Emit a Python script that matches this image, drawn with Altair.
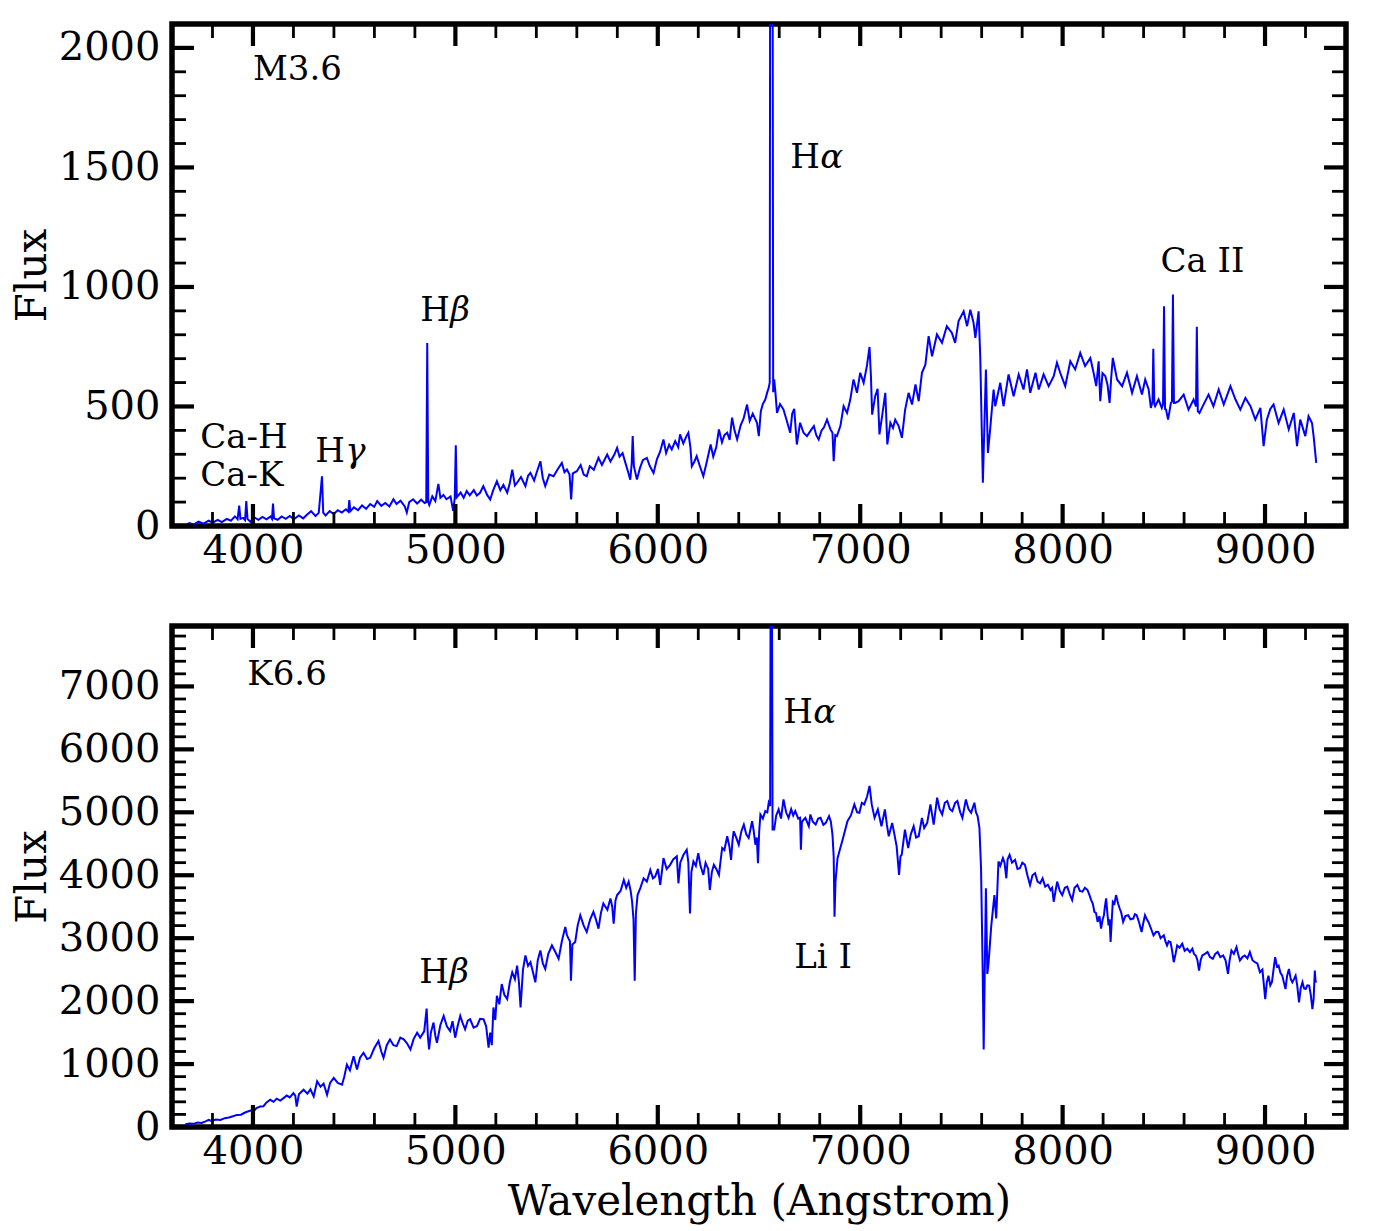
import altair as alt
import pandas as pd

# ---------------- data ----------------
TOP_WL = [
    3666, 3686, 3706, 3731, 3756, 3781, 3801, 3826, 3846, 3871,
    3891, 3911, 3924, 3932, 3938, 3951, 3961, 3967, 3973, 3987,
    4007, 4027, 4047, 4067, 4087, 4094, 4099, 4104, 4122, 4142,
    4162, 4182, 4202, 4227, 4248, 4268, 4287, 4309, 4325, 4341,
    4347, 4359, 4379, 4399, 4419, 4439, 4459, 4471, 4476, 4481,
    4499, 4519, 4539, 4559, 4579, 4599, 4614, 4634, 4654, 4674,
    4694, 4709, 4729, 4750, 4760, 4772, 4791, 4811, 4831, 4848,
    4856, 4861, 4866, 4871, 4886, 4901, 4916, 4926, 4941, 4956,
    4976, 4989, 4997, 5002, 5007, 5026, 5041, 5056, 5071, 5091,
    5106, 5122, 5138, 5157, 5172, 5187, 5205, 5222, 5237, 5256,
    5269, 5281, 5294, 5305, 5324, 5346, 5359, 5371, 5389, 5404,
    5420, 5432, 5444, 5464, 5485, 5504, 5526, 5539, 5551, 5564,
    5572, 5580, 5600, 5619, 5634, 5649, 5664, 5684, 5707, 5724,
    5750, 5766, 5786, 5799, 5811, 5826, 5840, 5852, 5864, 5871,
    5876, 5882, 5897, 5911, 5926, 5946, 5961, 5979, 5996, 6011,
    6028, 6041, 6056, 6069, 6086, 6101, 6110, 6126, 6141, 6151,
    6161, 6168, 6181, 6192, 6206, 6225, 6241, 6261, 6274, 6289,
    6302, 6317, 6329, 6343, 6355, 6367, 6379, 6392, 6409, 6424,
    6441, 6454, 6469, 6490, 6499, 6509, 6519, 6531, 6541, 6548,
    6553, 6556, 6566, 6570, 6575, 6581, 6589, 6604, 6621, 6634,
    6644, 6654, 6664, 6674, 6687, 6703, 6720, 6737, 6756, 6771,
    6783, 6795, 6809, 6820, 6836, 6853, 6863, 6869, 6877, 6885,
    6902, 6918, 6935, 6951, 6967, 6984, 7000, 7017, 7033, 7046,
    7053, 7059, 7074, 7086, 7095, 7108, 7124, 7134, 7149, 7162,
    7173, 7190, 7206, 7222, 7239, 7256, 7273, 7289, 7305, 7322,
    7338, 7355, 7379, 7404, 7428, 7453, 7469, 7486, 7511, 7528,
    7544, 7560, 7569, 7585, 7593, 7606, 7621, 7631, 7642, 7659,
    7667, 7692, 7708, 7733, 7758, 7783, 7807, 7824, 7840, 7866,
    7882, 7906, 7931, 7956, 7972, 7988, 8013, 8038, 8062, 8087,
    8111, 8137, 8153, 8166, 8178, 8186, 8197, 8211, 8222, 8232,
    8240, 8248, 8269, 8294, 8318, 8343, 8367, 8392, 8408, 8425,
    8436, 8444, 8448, 8453, 8457, 8474, 8490, 8496, 8501, 8506,
    8511, 8521, 8535, 8540, 8545, 8550, 8555, 8573, 8598, 8622,
    8647, 8659, 8663, 8668, 8676, 8696, 8721, 8745, 8771, 8796,
    8829, 8854, 8878, 8903, 8928, 8952, 8977, 8993, 9009, 9026,
    9042, 9067, 9092, 9117, 9142, 9158, 9174, 9199, 9215, 9232,
    9240, 9253,
]
TOP_FLUX = [
    5, 12, 6, 18, 10, 22, 14, 26, 16, 30,
    22, 40, 28, 85, 30, 34, 25, 104, 30, 18,
    36, 26, 38, 28, 40, 30, 94, 32, 26, 40,
    30, 42, 28, 44, 32, 48, 62, 42, 55, 208,
    56, 44, 62, 50, 66, 56, 70, 60, 108, 62,
    78, 66, 86, 72, 92, 80, 104, 84, 96, 82,
    112, 92, 106, 82, 56, 100, 112, 94, 110, 96,
    100, 766, 100, 88, 124, 104, 176, 118, 130, 112,
    124, 64, 118, 338, 120, 140, 118, 146, 128, 150,
    128, 139, 167, 130, 111, 150, 187, 150, 172, 139,
    180, 236, 170, 181, 205, 167, 210, 222, 190, 230,
    271, 200, 167, 215, 208, 235, 264, 225, 236, 215,
    111, 220, 229, 255, 215, 208, 250, 235, 285, 255,
    299, 270, 300, 327, 290, 305, 264, 230, 194, 260,
    376, 250, 194, 240, 275, 285, 250, 222, 280, 310,
    362, 305, 340, 320, 355, 330, 383, 345, 375, 390,
    330, 250, 270, 292, 255, 208, 265, 341, 290, 330,
    404, 350, 380, 390, 360, 453, 400, 362, 420, 450,
    508, 440, 470, 432, 376, 480, 510, 529, 560, 578,
    600, 3200, 3200, 560, 613, 560, 473, 510, 487, 450,
    420, 390, 470, 490, 341, 432, 390, 376, 400, 418,
    380, 362, 400, 411, 445, 404, 390, 271, 380, 376,
    418, 501, 473, 529, 613, 557, 641, 599, 669, 749,
    627, 466, 543, 574, 383, 459, 557, 341, 432, 410,
    445, 418, 369, 487, 557, 508, 592, 522, 641, 675,
    794, 710, 801, 766, 836, 808, 766, 857, 898, 836,
    905, 850, 787, 898, 710, 181, 655, 306, 404, 571,
    501, 599, 501, 634, 543, 634, 571, 655, 557, 641,
    571, 634, 585, 627, 683, 641, 585, 689, 655, 724,
    669, 703, 641, 585, 689, 522, 640, 627, 590, 515,
    620, 703, 613, 585, 641, 557, 627, 550, 613, 571,
    494, 520, 741, 510, 501, 529, 494, 510, 919, 490,
    487, 445, 515, 520, 968, 515, 515, 522, 550, 487,
    529, 500, 833, 480, 473, 508, 550, 501, 571, 508,
    585, 529, 487, 536, 501, 445, 494, 334, 445, 490,
    508, 431, 487, 404, 473, 334, 445, 376, 459, 431,
    376, 264,
]

BOT_WL = [
    3666, 3686, 3706, 3726, 3746, 3766, 3781, 3796, 3816, 3839,
    3861, 3881, 3901, 3921, 3941, 3961, 3987, 4002, 4017, 4036,
    4052, 4067, 4085, 4102, 4117, 4135, 4151, 4167, 4182, 4200,
    4209, 4216, 4227, 4250, 4269, 4284, 4300, 4317, 4334, 4349,
    4366, 4381, 4399, 4419, 4440, 4451, 4464, 4479, 4497, 4514,
    4529, 4546, 4564, 4579, 4599, 4620, 4634, 4645, 4661, 4677,
    4694, 4710, 4728, 4745, 4761, 4778, 4794, 4811, 4826, 4846,
    4858, 4864, 4870, 4879, 4892, 4901, 4909, 4926, 4942, 4958,
    4974, 4986, 4999, 5011, 5024, 5036, 5048, 5061, 5073, 5090,
    5107, 5122, 5139, 5152, 5164, 5172, 5180, 5188, 5197, 5205,
    5217, 5229, 5242, 5256, 5269, 5281, 5294, 5305, 5314, 5322,
    5334, 5346, 5359, 5371, 5384, 5395, 5407, 5420, 5432, 5444,
    5459, 5477, 5494, 5510, 5526, 5543, 5551, 5559, 5566, 5571,
    5578, 5592, 5604, 5617, 5634, 5649, 5666, 5682, 5694, 5707,
    5719, 5731, 5751, 5766, 5775, 5782, 5791, 5799, 5816, 5832,
    5844, 5856, 5866, 5873, 5880, 5886, 5892, 5900, 5914, 5930,
    5946, 5963, 5976, 5987, 6001, 6012, 6020, 6028, 6044, 6061,
    6076, 6094, 6102, 6111, 6127, 6143, 6151, 6159, 6166, 6176,
    6188, 6200, 6211, 6225, 6236, 6249, 6257, 6267, 6277, 6289,
    6302, 6311, 6318, 6329, 6343, 6354, 6362, 6369, 6375, 6387,
    6400, 6413, 6425, 6437, 6449, 6459, 6466, 6474, 6482, 6489,
    6495, 6501, 6507, 6519, 6531, 6541, 6548, 6555, 6558, 6563,
    6567, 6575, 6585, 6597, 6609, 6621, 6634, 6646, 6659, 6669,
    6679, 6694, 6703, 6707, 6712, 6729, 6746, 6754, 6766, 6780,
    6792, 6804, 6818, 6830, 6846, 6855, 6863, 6869, 6873, 6878,
    6888, 6899, 6913, 6924, 6937, 6954, 6971, 6985, 6996, 7008,
    7020, 7034, 7046, 7057, 7071, 7087, 7105, 7122, 7132, 7141,
    7158, 7169, 7180, 7192, 7199, 7205, 7221, 7237, 7250, 7264,
    7276, 7289, 7305, 7316, 7331, 7347, 7363, 7380, 7392, 7405,
    7418, 7430, 7443, 7455, 7469, 7480, 7494, 7505, 7522, 7535,
    7548, 7564, 7572, 7580, 7589, 7597, 7605, 7610, 7616, 7621,
    7628, 7634, 7647, 7663, 7672, 7683, 7692, 7705, 7713, 7722,
    7728, 7738, 7750, 7765, 7777, 7789, 7801, 7814, 7826, 7839,
    7851, 7864, 7876, 7889, 7901, 7914, 7927, 7940, 7948, 7956,
    7965, 7973, 7986, 7998, 8011, 8023, 8035, 8047, 8059, 8073,
    8085, 8098, 8110, 8123, 8131, 8141, 8149, 8157, 8165, 8173,
    8182, 8190, 8198, 8204, 8209, 8215, 8221, 8227, 8232, 8237,
    8243, 8248, 8256, 8264, 8274, 8282, 8290, 8299, 8310, 8324,
    8335, 8349, 8357, 8366, 8378, 8390, 8399, 8407, 8416, 8424,
    8437, 8449, 8462, 8473, 8484, 8500, 8508, 8516, 8524, 8533,
    8541, 8549, 8558, 8566, 8578, 8591, 8603, 8616, 8629, 8641,
    8649, 8658, 8666, 8674, 8682, 8690, 8703, 8716, 8728, 8742,
    8754, 8766, 8779, 8793, 8805, 8817, 8825, 8834, 8846, 8859,
    8867, 8876, 8888, 8900, 8913, 8925, 8938, 8950, 8962, 8975,
    8987, 9001, 9009, 9017, 9026, 9034, 9042, 9050, 9059, 9067,
    9076, 9085, 9093, 9101, 9109, 9118, 9127, 9135, 9143, 9151,
    9159, 9168, 9176, 9185, 9193, 9201, 9209, 9218, 9226, 9234,
    9240, 9246, 9250, 9253,
]
BOT_FLUX = [
    45, 55, 50, 70, 65, 90, 112, 95, 118, 112,
    140, 150, 170, 192, 195, 230, 261, 245, 300, 325,
    330, 390, 432, 400, 450, 420, 459, 500, 470, 539,
    500, 325, 520, 592, 530, 600, 485, 725, 640, 690,
    512, 700, 779, 700, 672, 800, 992, 900, 1125, 912,
    1100, 1179, 1080, 1099, 1250, 1365, 1200, 1099, 1300, 1392,
    1300, 1285, 1420, 1392, 1330, 1232, 1400, 1499, 1420, 1520,
    1883, 1450, 1232, 1500, 1659, 1450, 1339, 1620, 1765, 1600,
    1525, 1680, 1419, 1600, 1765, 1650, 1552, 1690, 1712, 1580,
    1605, 1720, 1712, 1600, 1259, 1500, 1300, 1899, 1700, 2085,
    1950, 2272, 2100, 2032, 2300, 2459, 2350, 2565, 2300, 1899,
    2500, 2725, 2560, 2619, 2450, 2299, 2650, 2805, 2600, 2512,
    2750, 2885, 2780, 2672, 2950, 3179, 3050, 2992, 2950, 2325,
    2900, 2939, 3200, 3365, 3200, 3099, 3300, 3419, 3300, 3152,
    3400, 3552, 3450, 3632, 3500, 3232, 3600, 3685, 3750, 3925,
    3800, 3899, 3750, 3579, 3300, 2325, 3400, 3685, 3800, 3952,
    3900, 4085, 3950, 3979, 4100, 3845, 4050, 4272, 4100, 4165,
    4250, 4299, 3872, 4200, 4325, 4405, 4200, 3392, 4050, 4219,
    4150, 4352, 4150, 4005, 4200, 4100, 3765, 4050, 4165, 4100,
    4005, 4250, 4432, 4400, 4619, 4450, 4245, 4550, 4699, 4600,
    4485, 4700, 4805, 4650, 4592, 4750, 4859, 4700, 4485, 4600,
    4192, 4700, 4965, 4900, 5019, 5000, 5152, 5100, 9500, 9500,
    4725, 4725, 4950, 5045, 4900, 5205, 5000, 4912, 5050, 4950,
    5019, 4900, 4912, 4405, 4850, 4912, 4779, 4965, 4850, 4805,
    4900, 4912, 4800, 4832, 4939, 4850, 4645, 4300, 3339, 3900,
    4272, 4400, 4565, 4700, 4859, 4950, 5125, 5000, 4992, 5150,
    5125, 5250, 5419, 5125, 4912, 5045, 4779, 5045, 4800, 4619,
    4832, 4650, 4459, 4005, 4300, 4325, 4725, 4432, 4650, 4779,
    4600, 4619, 4912, 4750, 4832, 5125, 4805, 5232, 5050, 4965,
    5150, 5179, 5050, 5019, 5150, 5179, 5000, 4912, 5205, 5050,
    4992, 5152, 5000, 4939, 4752, 4112, 2512, 1232, 2632, 3792,
    2432, 2600, 3179, 3685, 3312, 4219, 4150, 4272, 4200, 3952,
    4250, 4325, 4200, 4245, 4100, 4112, 4200, 4165, 4000, 3845,
    4000, 4032, 3900, 3872, 3950, 3819, 3850, 3765, 3800, 3579,
    3750, 3899, 3750, 3685, 3800, 3819, 3700, 3605, 3800, 3845,
    3750, 3739, 3800, 3765, 3700, 3605, 3550, 3419, 3400, 3259,
    3350, 3152, 3300, 3365, 3500, 3632, 3400, 3205, 3300, 2939,
    3300, 3579, 3550, 3685, 3550, 3472, 3400, 3259, 3350, 3365,
    3300, 3312, 3380, 3365, 3250, 3099, 3250, 3365, 3300, 3259,
    3150, 3045, 3100, 3099, 3000, 3045, 2950, 2885, 2950, 2939,
    2800, 2619, 2750, 2885, 2850, 2912, 2800, 2832, 2780, 2832,
    2750, 2725, 2650, 2485, 2650, 2725, 2750, 2779, 2700, 2672,
    2750, 2779, 2700, 2725, 2650, 2432, 2650, 2805, 2750, 2859,
    2750, 2645, 2700, 2725, 2680, 2779, 2650, 2619, 2600, 2459,
    2500, 2032, 2300, 2405, 2250, 2299, 2500, 2699, 2550, 2565,
    2450, 2405, 2300, 2192, 2400, 2512, 2350, 2299, 2350, 2405,
    2250, 1979, 2200, 2299, 2200, 2192, 2250, 2245, 2100, 1872,
    2032, 2485, 2299, 2320,
]

X_MAJOR = [4000, 5000, 6000, 7000, 8000, 9000]
X_MINOR = [3800, 4200, 4400, 4600, 4800, 5200, 5400, 5600, 5800,
           6200, 6400, 6600, 6800, 7200, 7400, 7600, 7800,
           8200, 8400, 8600, 8800, 9200]
TOP_Y_MAJOR = [0, 500, 1000, 1500, 2000]
TOP_Y_MINOR = [100, 200, 300, 400, 600, 700, 800, 900, 1100, 1200,
               1300, 1400, 1600, 1700, 1800, 1900]
BOT_Y_MAJOR = [0, 1000, 2000, 3000, 4000, 5000, 6000, 7000]
BOT_Y_MINOR = [200, 400, 600, 800, 1200, 1400, 1600, 1800, 2200, 2400,
               2600, 2800, 3200, 3400, 3600, 3800, 4200, 4400, 4600, 4800,
               5200, 5400, 5600, 5800, 6200, 6400, 6600, 6800, 7200, 7400,
               7600, 7800]

TOP_TEXT = ["M3.6", "H", "Ca II", "H", "Ca-H", "Ca-K", "H"]
TOP_GREEK = ["", "α", "", "β", "", "", "γ"]
TOP_TEXT_WL = [4000, 6655, 8483, 4826, 3740, 3740, 4308]
TOP_TEXT_FLUX = [1864, 1496, 1064, 856, 328, 169, 266]

BOT_TEXT = ["K6.6", "H", "H", "Li I"]
BOT_GREEK = ["", "α", "β", ""]
BOT_TEXT_WL = [3972, 6620, 4822, 6674]
BOT_TEXT_FLUX = [7019, 6415, 2281, 2530]

# ---------------- styling ----------------
X_DOMAIN = [3600, 9400]
W = 1174
FONT = "DejaVu Serif"
BLUE = "#0000ff"
MAJ_LEN, MIN_LEN = 22, 14
MAJ_W, MIN_W = 4.2, 2.8


def panel(wl, flux, ymax, h, ymaj, ymin, tx, tg, twl, tflux, xtitle):
    xs = alt.Scale(domain=X_DOMAIN, nice=False, zero=False)
    ys = alt.Scale(domain=[0, ymax], nice=False, zero=False)
    xax = alt.Axis(values=X_MAJOR, format="d", ticks=False, tickSize=0,
                   domain=False, grid=False, labelFont=FONT, labelFontSize=40,
                   labelColor="black", labelPadding=4, labelFlush=False,
                   labelOverlap=False, title=xtitle, titleFont=FONT,
                   titleFontSize=42, titleFontWeight="normal",
                   titleColor="black", titlePadding=10)
    yax = alt.Axis(values=ymaj, format="d", ticks=False, tickSize=0,
                   domain=False, grid=False, labelFont=FONT, labelFontSize=40,
                   labelColor="black", labelPadding=12, labelFlush=False,
                   labelOverlap=False, title="Flux", titleFont=FONT,
                   titleFontSize=42, titleFontWeight="normal",
                   titleColor="black", titlePadding=4)

    def X():
        return alt.X("wl:Q", scale=xs, axis=xax)

    def Y():
        return alt.Y("flux:Q", scale=ys, axis=yax)

    spec = pd.DataFrame({"wl": wl, "flux": flux})
    layers = [alt.Chart(spec).mark_line(color=BLUE, strokeWidth=2.0, clip=True)
              .encode(x=X(), y=Y())]

    for vals, ln, sw in [(X_MAJOR, MAJ_LEN, MAJ_W), (X_MINOR, MIN_LEN, MIN_W)]:
        d = pd.DataFrame({"wl": vals})
        layers.append(alt.Chart(d).mark_rule(color="black", strokeWidth=sw)
                      .encode(x=X(), y=alt.value(h), y2=alt.value(h - ln)))
        layers.append(alt.Chart(d).mark_rule(color="black", strokeWidth=sw)
                      .encode(x=X(), y=alt.value(0), y2=alt.value(ln)))
    for vals, ln, sw in [(ymaj, MAJ_LEN, MAJ_W), (ymin, MIN_LEN, MIN_W)]:
        d = pd.DataFrame({"flux": vals})
        layers.append(alt.Chart(d).mark_rule(color="black", strokeWidth=sw)
                      .encode(y=Y(), x=alt.value(0), x2=alt.value(ln)))
        layers.append(alt.Chart(d).mark_rule(color="black", strokeWidth=sw)
                      .encode(y=Y(), x=alt.value(W), x2=alt.value(W - ln)))

    lab = pd.DataFrame({"wl": twl, "flux": tflux, "t": tx, "g": tg})
    layers.append(alt.Chart(lab).mark_text(font=FONT, fontSize=34, color="black",
                                           align="left", baseline="alphabetic")
                  .encode(x=X(), y=Y(), text="t:N"))
    greek = lab[lab["g"] != ""]
    layers.append(alt.Chart(greek).mark_text(font=FONT, fontSize=34, fontStyle="italic",
                                             color="black", align="left",
                                             baseline="alphabetic", dx=30)
                  .encode(x=X(), y=Y(), text="g:N"))
    return alt.layer(*layers).properties(width=W, height=h)


top = panel(TOP_WL, TOP_FLUX, 2100, 502, TOP_Y_MAJOR, TOP_Y_MINOR,
            TOP_TEXT, TOP_GREEK, TOP_TEXT_WL, TOP_TEXT_FLUX, "")
bot = panel(BOT_WL, BOT_FLUX, 7960, 501, BOT_Y_MAJOR, BOT_Y_MINOR,
            BOT_TEXT, BOT_GREEK, BOT_TEXT_WL, BOT_TEXT_FLUX, "Wavelength (Angstrom)")

chart = (alt.vconcat(top, bot, spacing=100, bounds="flush")
         .properties(padding={"left": 0, "top": 11, "right": 5, "bottom": 5},
                     background="white")
         .configure_view(stroke="black", strokeWidth=5.5))

chart.save("out.html", embed_options={"renderer": "svg", "actions": False})
